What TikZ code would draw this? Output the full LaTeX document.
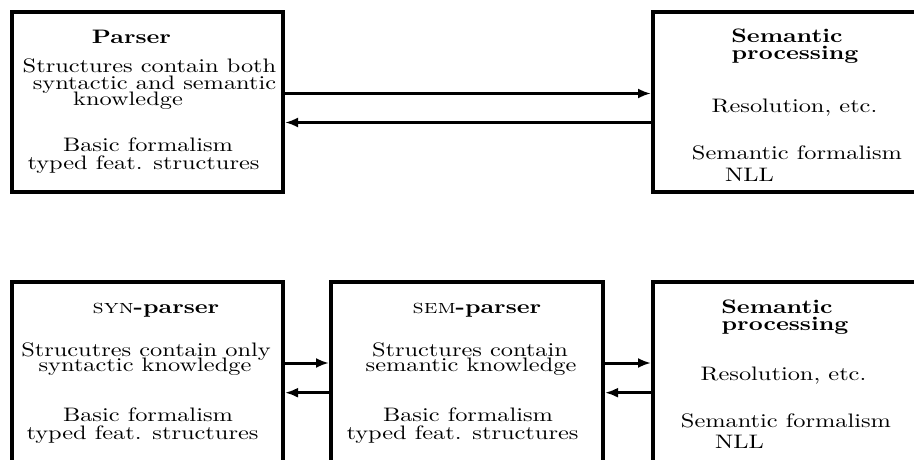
\documentclass[tikz,border=0pt]{standalone}
\usepackage{fontspec}
\setmainfont{lmroman10-regular.otf}[BoldFont=lmroman10-bold.otf, ItalicFont=lmroman10-italic.otf, SmallCapsFont=lmromancaps10-regular.otf, FakeStretch=1.25]
\usetikzlibrary{arrows.meta}
\begin{document}
\begin{tikzpicture}[x=1pt,y=1pt,
  box/.style={draw, line width=4pt, inner sep=0pt, rectangle},
  txt/.style={anchor=base, inner sep=0pt, font=\fontsize{19.5pt}{17pt}\selectfont},
  hd/.style={txt, font=\fontsize{19.5pt}{17pt}\selectfont\bfseries},
  arr/.style={line width=3pt, -{Latex[length=13pt,width=10pt]}}]
\useasboundingbox (0,0) rectangle (914,459);
\fill[white] (0,0) rectangle (914,459);
\clip (0,0) rectangle (914,459);
% boxes
\node[box, minimum width=271.5pt, minimum height=180pt] (parser) at (147.25,357) {};
\node[box, minimum width=272pt, minimum height=180pt] (semA) at (789,357) {};
\node[box, minimum width=271.5pt, minimum height=198pt] (syn) at (147.25,78) {};
\node[box, minimum width=272pt, minimum height=198pt] (sem) at (467,78) {};
\node[box, minimum width=272pt, minimum height=198pt] (semB) at (789,78) {};
% top arrows
\draw[arr] (parser.east |- 0,365.5) -- (semA.west |- 0,365.5);
\draw[arr] (semA.west |- 0,336.5) -- (parser.east |- 0,336.5);
% bottom arrows
\draw[arr] (syn.east |- 0,96) -- (sem.west |- 0,96);
\draw[arr] (sem.west |- 0,66.3) -- (syn.east |- 0,66.3);
\draw[arr] (sem.east |- 0,96) -- (semB.west |- 0,96);
\draw[arr] (semB.west |- 0,66.3) -- (sem.east |- 0,66.3);
% texts top-left
\node[hd] (t1) at (131.5,415) {Parser};
\node[txt] (t2) at (149.5,386) {Structures contain both};
\node[txt] (t3) at (154.5,369.5) {syntactic and semantic};
\node[txt] (t4) at (128,353) {knowledge};
\node[txt] (t5) at (148,308) {Basic formalism};
\node[txt] (t6) at (143.5,290) {typed feat. structures};
% texts top-right
\node[hd] (u1) at (787,416) {Semantic};
\node[hd] (u2) at (795,399) {processing};
\node[txt] (u3) at (794.5,346) {Resolution, etc.};
\node[txt] (u4) at (797,299) {Semantic formalism};
\node[txt] (u5) at (749.5,278) {NLL};
% bottom-left
\node[txt] (v1) at (156,146) {\textsc{syn}\textbf{-parser}};
\node[txt] (v2) at (146,103) {Strucutres contain only};
\node[txt] (v3) at (145,88) {syntactic knowledge};
\node[txt] (v4) at (148,38) {Basic formalism};
\node[txt] (v5) at (142.5,20) {typed feat. structures};
% bottom-middle
\node[txt] (w1) at (477,146) {\textsc{sem}\textbf{-parser}};
\node[txt] (w2) at (470,103) {Structures contain};
\node[txt] (w3) at (471,88) {semantic knowledge};
\node[txt] (w4) at (468,38) {Basic formalism};
\node[txt] (w5) at (462.5,20) {typed feat. structures};
% bottom-right
\node[hd] (x1) at (777,146) {Semantic};
\node[hd] (x2) at (785,129) {processing};
\node[txt] (x3) at (783.5,79) {Resolution, etc.};
\node[txt] (x4) at (786,32) {Semantic formalism};
\node[txt] (x5) at (739.5,11) {NLL};
\end{tikzpicture}
\end{document}
